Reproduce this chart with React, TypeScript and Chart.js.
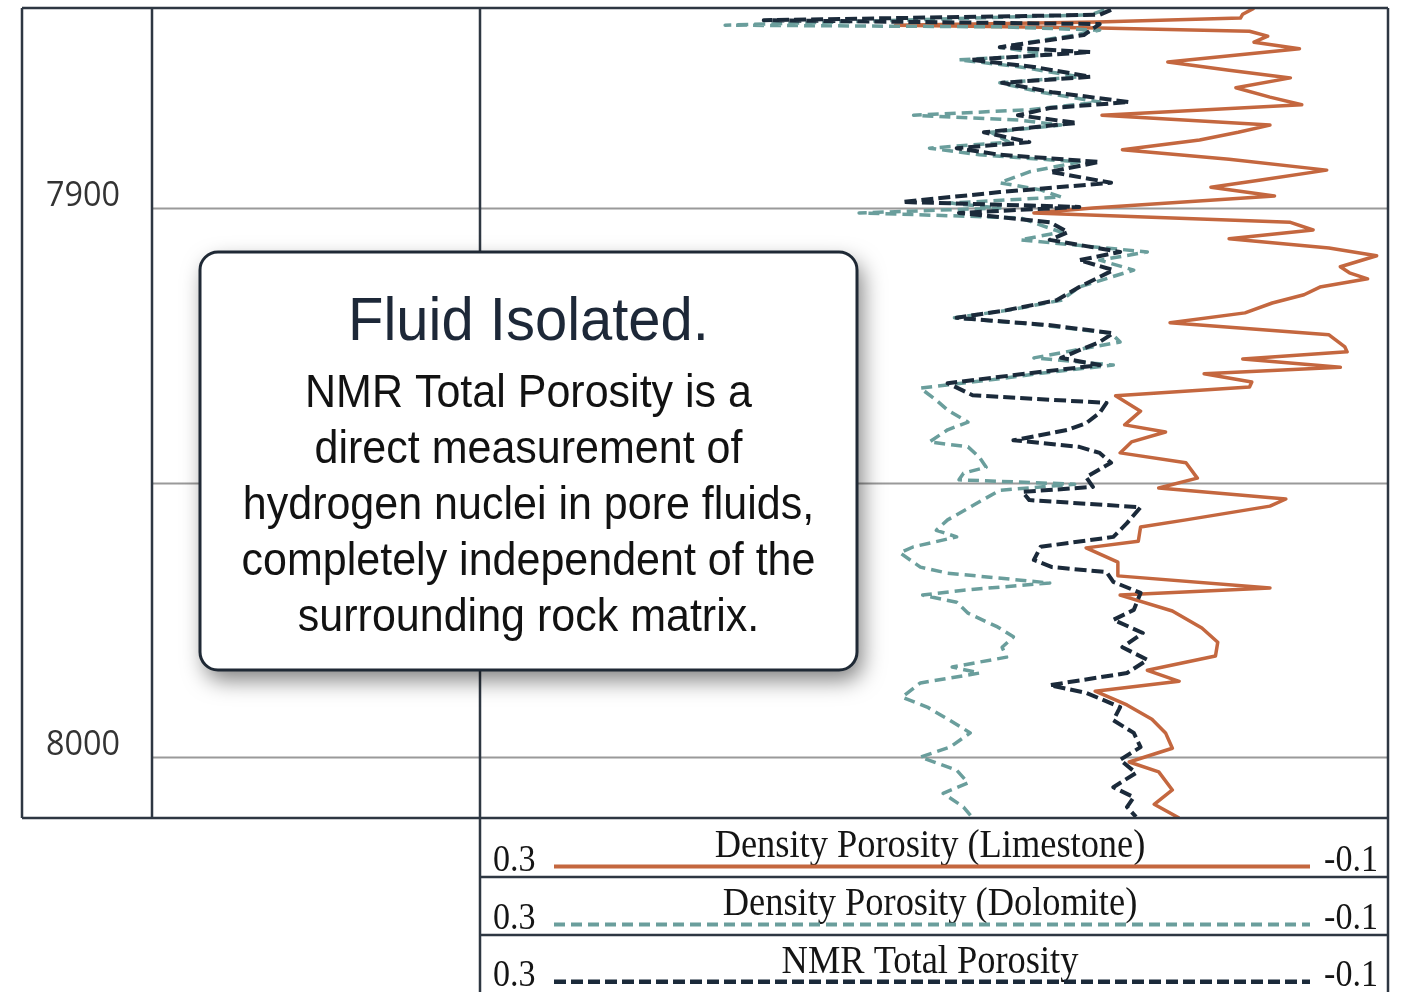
import { useEffect, useRef } from "react";
import { Chart, registerables } from "chart.js";

Chart.register(...registerables);

// Depth track
const depthTop = 7863.57;
const depthBottom = 8011.1;
const depthGrid = [7900, 7950, 8000];
const depthLabels = [7900, 8000];

// Porosity scale (left value, right value)
const scaleLeft = 0.3;
const scaleRight = -0.1;
const scaleLeftLabel = "0.3";
const scaleRightLabel = "-0.1";

// Density porosity, limestone matrix
const limeDepth = [
  7863.6, 7864.7, 7865.4, 7866.1, 7866.7, 7867.2, 7867.8, 7868.7, 7869.8, 7871.0,
  7873.4, 7874.9, 7876.3, 7878.1, 7879.8, 7881.2, 7883.1, 7884.9, 7886.2, 7887.6,
  7889.4, 7891.1, 7893.1, 7894.9, 7896.2, 7897.8, 7900.0, 7900.9, 7902.6, 7904.0,
  7905.6, 7907.3, 7908.7, 7910.7, 7911.8, 7912.9, 7914.4, 7915.8, 7917.3, 7919.1,
  7920.9, 7923.1, 7925.3, 7926.2, 7927.5, 7929.0, 7930.2, 7931.7, 7932.6, 7934.2,
  7937.0, 7939.5, 7940.8, 7942.6, 7944.6, 7946.4, 7949.2, 7951.0, 7953.0, 7954.3,
  7956.8, 7958.1, 7960.7, 7961.9, 7964.5, 7967.0, 7969.2, 7970.5, 7973.4, 7976.5,
  7979.1, 7981.6, 7984.2, 7986.2, 7988.0, 7990.5, 7993.1, 7995.6, 7998.4, 8000.9,
  8002.7, 8006.0, 8008.6, 8011.1,
];
const limeValues = [
  -0.041, -0.036, -0.035, 0.028, 0.117, 0.027, -0.039, -0.047, -0.041, -0.061,
  -0.003, -0.030, -0.057, -0.033, -0.048, -0.062, 0.026, -0.048, -0.034, -0.017,
  0.017, -0.030, -0.073, -0.044, -0.022, -0.050, 0.030, 0.056, -0.057, -0.067,
  -0.030, -0.074, -0.095, -0.079, -0.083, -0.091, -0.070, -0.063, -0.049, -0.037,
  -0.004, -0.074, -0.081, -0.082, -0.036, -0.079, -0.019, -0.040, -0.039, 0.020,
  0.009, 0.016, -0.002, 0.013, 0.018, -0.011, -0.016, 0.001, -0.055, -0.048,
  -0.011, 0.009, 0.010, 0.033, 0.019, 0.019, -0.048, 0.018, -0.005, -0.018,
  -0.025, -0.024, 0.006, -0.008, 0.029, 0.015, 0.004, -0.002, -0.005, 0.014,
  0.001, -0.005, 0.003, -0.008,
];

// Density porosity, dolomite matrix
const dolDepth = [
  7863.9, 7864.8, 7865.8, 7866.7, 7867.0, 7867.6, 7868.5, 7870.7, 7872.1, 7873.0,
  7874.3, 7876.1, 7877.2, 7878.9, 7880.7, 7882.1, 7883.1, 7884.0, 7884.9, 7886.2,
  7888.0, 7889.1, 7890.3, 7891.6, 7893.4, 7895.4, 7896.7, 7898.0, 7899.1, 7900.0,
  7900.9, 7901.8, 7903.1, 7904.4, 7905.8, 7908.0, 7909.5, 7911.3, 7914.4, 7916.8,
  7918.6, 7920.0, 7921.3, 7922.8, 7924.4, 7925.9, 7927.3, 7928.6, 7930.1, 7931.3,
  7932.8, 7935.0, 7936.8, 7939.0, 7940.4, 7942.6, 7943.5, 7945.4, 7947.2, 7948.3,
  7949.5, 7950.3, 7951.4, 7956.8, 7958.7, 7959.9, 7961.7, 7962.8, 7965.4, 7966.5,
  7968.3, 7969.6, 7970.5, 7971.8, 7973.8, 7976.3, 7978.1, 7980.0, 7981.8, 7983.6,
  7984.7, 7986.5, 7989.1, 7990.9, 7993.3, 7995.6, 7998.2, 8000.0, 8002.4, 8004.7,
  8006.6, 8009.1, 8011.1,
];
const dolValues = [
  0.025, 0.031, 0.115, 0.192, 0.071, 0.027, 0.038, 0.071, 0.049, 0.089,
  0.062, 0.036, 0.071, 0.053, 0.027, 0.058, 0.109, 0.062, 0.044, 0.075,
  0.067, 0.102, 0.080, 0.036, 0.058, 0.071, 0.053, 0.044, 0.093, 0.071,
  0.133, 0.062, 0.053, 0.044, 0.062, 0.006, 0.027, 0.012, 0.036, 0.044,
  0.067, 0.091, 0.053, 0.022, 0.018, 0.038, 0.056, 0.021, 0.053, 0.075,
  0.106, 0.099, 0.094, 0.085, 0.094, 0.102, 0.085, 0.080, 0.077, 0.087,
  0.089, 0.038, 0.071, 0.094, 0.099, 0.090, 0.109, 0.115, 0.106, 0.094,
  0.049, 0.087, 0.105, 0.090, 0.085, 0.072, 0.065, 0.070, 0.068, 0.092,
  0.080, 0.106, 0.114, 0.103, 0.093, 0.084, 0.093, 0.106, 0.090, 0.085,
  0.096, 0.087, 0.083,
];

// NMR total porosity
const nmrDepth = [
  7863.9, 7864.8, 7865.8, 7866.5, 7867.6, 7868.5, 7870.7, 7871.6, 7873.0, 7874.3,
  7876.1, 7877.2, 7878.9, 7880.7, 7881.8, 7883.1, 7884.5, 7886.2, 7888.0, 7889.1,
  7890.3, 7891.6, 7893.4, 7895.4, 7897.1, 7898.9, 7899.8, 7900.9, 7902.6, 7904.4,
  7905.8, 7908.0, 7909.5, 7911.3, 7914.4, 7916.8, 7918.6, 7920.0, 7921.3, 7922.8,
  7924.4, 7925.9, 7927.3, 7928.6, 7930.1, 7931.9, 7934.1, 7935.5, 7937.3, 7939.2,
  7940.4, 7942.3, 7943.5, 7944.6, 7946.4, 7949.0, 7950.8, 7951.7, 7953.2, 7954.5,
  7957.4, 7959.9, 7961.7, 7964.1, 7965.4, 7966.3, 7968.1, 7970.1, 7973.2, 7975.0,
  7977.4, 7980.0, 7982.3, 7984.7, 7986.9, 7988.3, 7990.9, 7993.3, 7995.6, 7998.2,
  8000.5, 8002.9, 8005.5, 8007.3, 8009.1, 8010.9,
];
const nmrValues = [
  0.022, 0.027, 0.175, 0.027, 0.031, 0.034, 0.071, 0.031, 0.084, 0.056,
  0.031, 0.070, 0.048, 0.014, 0.049, 0.063, 0.037, 0.078, 0.058, 0.090,
  0.071, 0.027, 0.049, 0.022, 0.071, 0.114, 0.036, 0.089, 0.049, 0.041,
  0.049, 0.018, 0.036, 0.021, 0.036, 0.046, 0.068, 0.090, 0.050, 0.021,
  0.027, 0.036, 0.044, 0.027, 0.058, 0.094, 0.083, 0.024, 0.027, 0.033,
  0.041, 0.065, 0.036, 0.027, 0.022, 0.033, 0.030, 0.061, 0.058, 0.009,
  0.015, 0.021, 0.053, 0.056, 0.048, 0.024, 0.021, 0.009, 0.012, 0.021,
  0.008, 0.017, 0.006, 0.015, 0.049, 0.033, 0.018, 0.021, 0.012, 0.009,
  0.018, 0.011, 0.021, 0.012, 0.015, 0.011,
];

const calloutTitle = "Fluid Isolated.";
const calloutLines = [
  "NMR Total Porosity is a",
  "direct measurement of",
  "hydrogen nuclei in pore fluids,",
  "completely independent of the",
  "surrounding rock matrix.",
];

const ORANGE = "#c4673f";
const TEAL = "#6a9e9c";
const NAVY = "#1b2a3a";
const FRAME = "#2e3742";
const GRID = "#9a9a9a";

// Frame geometry of the log layout
const FRAME_LEFT = 22;
const DEPTH_TRACK_RIGHT = 152;
const LEGEND_ROWS = [818, 877, 935, 992];
const BOX = { left: 200, right: 857, top: 252, bottom: 670, radius: 18 };

const toPoints = (depths: number[], values: number[]) =>
  depths.map((d, i) => ({ x: values[i], y: d }));

function roundRect(ctx: CanvasRenderingContext2D, x: number, y: number, w: number, h: number, r: number) {
  ctx.beginPath();
  ctx.moveTo(x + r, y);
  ctx.lineTo(x + w - r, y);
  ctx.arcTo(x + w, y, x + w, y + r, r);
  ctx.lineTo(x + w, y + h - r);
  ctx.arcTo(x + w, y + h, x + w - r, y + h, r);
  ctx.lineTo(x + r, y + h);
  ctx.arcTo(x, y + h, x, y + h - r, r);
  ctx.lineTo(x, y + r);
  ctx.arcTo(x, y, x + r, y, r);
  ctx.closePath();
}

// Draws text squeezed horizontally around a centre point
function condensedText(ctx: CanvasRenderingContext2D, text: string, cx: number, y: number, squeeze: number, align: CanvasTextAlign = "center") {
  ctx.save();
  ctx.translate(cx, y);
  ctx.scale(squeeze, 1);
  ctx.textAlign = align;
  ctx.fillText(text, 0, 0);
  ctx.restore();
}

const logPlugin = {
  id: "logLayout",
  beforeDatasetsDraw(chart: any) {
    const { ctx, chartArea, scales } = chart;
    const y = scales.y;
    ctx.save();
    // depth grid lines across both tracks
    ctx.strokeStyle = GRID;
    ctx.lineWidth = 2;
    depthGrid.forEach((d) => {
      const py = Math.round(y.getPixelForValue(d)) + 0.5;
      ctx.beginPath();
      ctx.moveTo(DEPTH_TRACK_RIGHT, py);
      ctx.lineTo(chartArea.right, py);
      ctx.stroke();
    });
    // depth labels
    ctx.fillStyle = "#333333";
    ctx.font = "34px 'Open Sans', 'Liberation Sans', sans-serif";
    ctx.textAlign = "center";
    ctx.textBaseline = "alphabetic";
    depthLabels.forEach((d) => {
      const py = y.getPixelForValue(d);
      ctx.fillText(String(d), (FRAME_LEFT + DEPTH_TRACK_RIGHT) / 2 - 4, py - 2, 74);
    });
    ctx.restore();
  },
  afterDatasetsDraw(chart: any) {
    const { ctx, chartArea } = chart;
    const left = chartArea.left;
    const right = chartArea.right;
    const top = chartArea.top;
    const bottom = chartArea.bottom;
    ctx.save();

    // frame
    ctx.strokeStyle = FRAME;
    ctx.lineWidth = 2.5;
    ctx.beginPath();
    ctx.moveTo(FRAME_LEFT, top);
    ctx.lineTo(right, top);
    ctx.moveTo(FRAME_LEFT, bottom);
    ctx.lineTo(right, bottom);
    ctx.moveTo(FRAME_LEFT, top);
    ctx.lineTo(FRAME_LEFT, bottom);
    ctx.moveTo(DEPTH_TRACK_RIGHT, top);
    ctx.lineTo(DEPTH_TRACK_RIGHT, bottom);
    ctx.moveTo(left, top);
    ctx.lineTo(left, LEGEND_ROWS[LEGEND_ROWS.length - 1]);
    ctx.moveTo(right, top);
    ctx.lineTo(right, LEGEND_ROWS[LEGEND_ROWS.length - 1]);
    for (let i = 1; i < LEGEND_ROWS.length - 1; i++) {
      ctx.moveTo(left, LEGEND_ROWS[i]);
      ctx.lineTo(right, LEGEND_ROWS[i]);
    }
    ctx.stroke();

    // legend rows built from the datasets
    const rows = [...chart.data.datasets].sort((a: any, b: any) => b.order - a.order);
    rows.forEach((ds: any, i: number) => {
      const rTop = LEGEND_ROWS[i];
      const rBot = LEGEND_ROWS[i + 1];
      const h = rBot - rTop;
      const titleY = rTop + h * 0.66;
      const lineY = rTop + h * 0.82;
      const numY = rTop + h * 0.9;
      ctx.fillStyle = "#151515";
      ctx.textBaseline = "alphabetic";
      ctx.font = "40px 'Liberation Serif', 'Times New Roman', serif";
      condensedText(ctx, ds.label, (left + right) / 2 - 4, titleY, 0.91);
      ctx.font = "37px 'Liberation Serif', 'Times New Roman', serif";
      condensedText(ctx, scaleLeftLabel, left + 13, numY, 0.92, "left");
      condensedText(ctx, scaleRightLabel, right - 10, numY, 0.92, "right");
      ctx.save();
      ctx.strokeStyle = ds.borderColor;
      ctx.lineWidth = ds.borderWidth + 0.5;
      ctx.setLineDash(ds.borderDash || []);
      ctx.beginPath();
      ctx.moveTo(left + 74, lineY);
      ctx.lineTo(right - 78, lineY);
      ctx.stroke();
      ctx.restore();
    });

    // callout
    ctx.save();
    ctx.shadowColor = "rgba(0,0,0,0.5)";
    ctx.shadowBlur = 22;
    ctx.shadowOffsetX = 5;
    ctx.shadowOffsetY = 10;
    roundRect(ctx, BOX.left, BOX.top, BOX.right - BOX.left, BOX.bottom - BOX.top, BOX.radius);
    ctx.fillStyle = "#ffffff";
    ctx.fill();
    ctx.restore();
    roundRect(ctx, BOX.left, BOX.top, BOX.right - BOX.left, BOX.bottom - BOX.top, BOX.radius);
    ctx.strokeStyle = "#1f2935";
    ctx.lineWidth = 3;
    ctx.stroke();

    const cx = (BOX.left + BOX.right) / 2;
    ctx.fillStyle = "#1d2838";
    ctx.font = "62px 'Liberation Sans', Arial, sans-serif";
    ctx.textBaseline = "alphabetic";
    condensedText(ctx, calloutTitle, cx, 340, 0.935);
    ctx.fillStyle = "#121212";
    ctx.font = "46px 'Liberation Sans', Arial, sans-serif";
    calloutLines.forEach((line, i) => {
      condensedText(ctx, line, cx, 407 + i * 56, 0.935);
    });

    ctx.restore();
  },
};

export default function App() {
  const canvasRef = useRef<HTMLCanvasElement | null>(null);

  useEffect(() => {
    const canvas = canvasRef.current;
    if (!canvas) return;
    const chart = new Chart(canvas, {
      type: "scatter",
      data: {
        datasets: [
          {
            label: "Density Porosity (Limestone)",
            data: toPoints(limeDepth, limeValues),
            borderColor: ORANGE,
            backgroundColor: ORANGE,
            borderWidth: 3.5,
            borderJoinStyle: "round",
            showLine: true,
            pointRadius: 0,
            tension: 0,
            order: 3,
          },
          {
            label: "Density Porosity (Dolomite)",
            data: toPoints(dolDepth, dolValues),
            borderColor: TEAL,
            backgroundColor: TEAL,
            borderWidth: 3.5,
            borderDash: [11, 6],
            borderJoinStyle: "round",
            showLine: true,
            pointRadius: 0,
            tension: 0,
            order: 2,
          },
          {
            label: "NMR Total Porosity",
            data: toPoints(nmrDepth, nmrValues),
            borderColor: NAVY,
            backgroundColor: NAVY,
            borderWidth: 4,
            borderDash: [12, 5],
            borderJoinStyle: "round",
            showLine: true,
            pointRadius: 0,
            tension: 0,
            order: 1,
          },
        ] as any,
      },
      options: {
        responsive: false,
        animation: false,
        maintainAspectRatio: false,
        layout: { padding: { left: 480, right: 19, top: 8, bottom: 174 } },
        scales: {
          x: { type: "linear", min: scaleRight, max: scaleLeft, reverse: true, display: false },
          y: { type: "linear", min: depthTop, max: depthBottom, reverse: true, display: false },
        },
        plugins: {
          legend: { display: false },
          tooltip: { enabled: false },
        },
      },
      plugins: [logPlugin],
    });
    return () => chart.destroy();
  }, []);

  return (
    <div style={{ position: "fixed", left: 0, top: 0, width: 1407, height: 992, background: "#ffffff" }}>
      <canvas ref={canvasRef} width={1407} height={992} style={{ display: "block" }} />
    </div>
  );
}
